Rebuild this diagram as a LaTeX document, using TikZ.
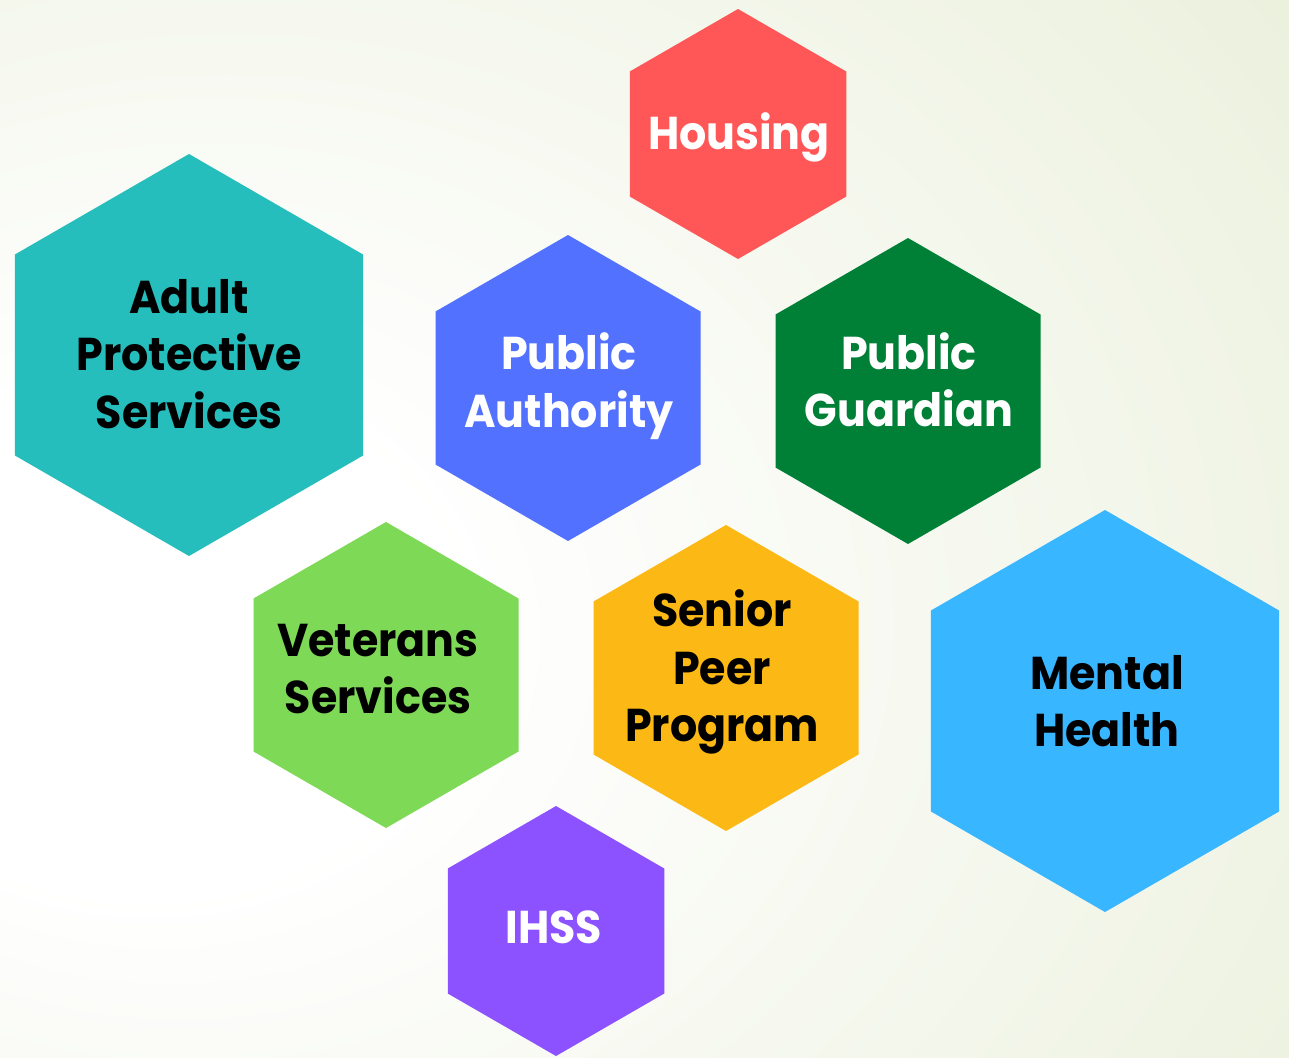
\documentclass[tikz,border=0pt]{standalone}
\usepackage{fontspec}
\setmainfont{Poppins}[UprightFont=* Bold, BoldFont=* Bold, FakeStretch=0.93]
\usetikzlibrary{shapes.geometric}
\definecolor{bgout}{HTML}{DCE5C2}
\definecolor{bgin}{HTML}{FFFFFF}
\definecolor{cHousing}{HTML}{FF5757}
\definecolor{cAPS}{HTML}{26BDBD}
\definecolor{cPA}{HTML}{5271FF}
\definecolor{cPG}{HTML}{008037}
\definecolor{cVet}{HTML}{7ED957}
\definecolor{cSen}{HTML}{FCB814}
\definecolor{cMH}{HTML}{38B6FF}
\definecolor{cIHSS}{HTML}{8C52FF}
\pgfdeclareradialshading{bgshade}{\pgfpoint{-22bp}{-6bp}}{color(0bp)=(bgin); color(12bp)=(bgin); color(75bp)=(bgout); color(100bp)=(bgout)}
\tikzset{
  hexa/.style={regular polygon, regular polygon sides=6, shape border rotate=30, inner sep=0pt, outer sep=0pt, draw=none},
  lbl/.style={align=center, font=\fontsize{46}{57.5}\selectfont, inner sep=0pt}
}
\begin{document}
\begin{tikzpicture}[x=1pt,y=-1pt]
\useasboundingbox (0,0) rectangle (1289,1057);
\shade[shading=bgshade] (0,0) rectangle (1289,1057);
\node[hexa, fill=cHousing, minimum size=250pt] (housing) at (738,134) {};
\node[lbl, text=white] (housingt) at (739,137) {Housing};
\node[hexa, fill=cAPS, minimum size=402pt] (aps) at (189,355) {};
\node[lbl, text=black] (apst) at (189,354) {Adult\\Protective\\Services};
\node[hexa, fill=cPA, minimum size=306pt] (pa) at (568,388) {};
\node[lbl, text=white] (pat) at (569,386) {Public\\Authority};
\node[hexa, fill=cPG, minimum size=306pt] (pg) at (908,391) {};
\node[lbl, text=white] (pgt) at (909,380) {Public\\Guardian};
\node[hexa, fill=cVet, minimum size=306pt] (vet) at (386,675) {};
\node[lbl, text=black] (vett) at (378,669) {Veterans\\Services};
\node[hexa, fill=cSen, minimum size=306pt] (sen) at (726,678) {};
\node[lbl, text=black] (sent) at (722,672) {Senior\\Peer\\Program};
\node[hexa, fill=cMH, minimum size=402pt] (mh) at (1105,711) {};
\node[lbl, text=black] (mht) at (1107,701) {Mental\\Health};
\node[hexa, fill=cIHSS, minimum size=250pt] (ihss) at (556,931) {};
\node[lbl, text=white] (ihsst) at (554,927) {IHSS};
\end{tikzpicture}
\end{document}
